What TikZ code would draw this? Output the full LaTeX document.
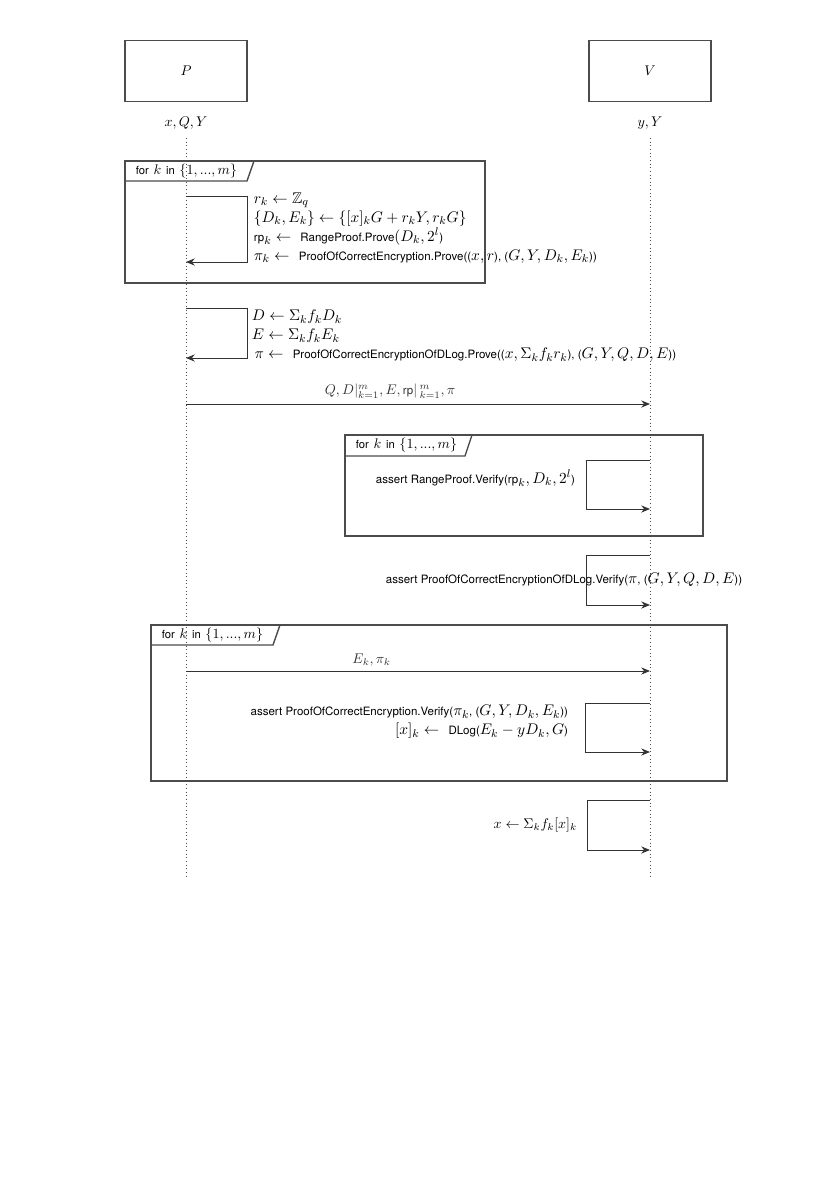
\documentclass[tikz,border=0pt]{standalone}
\usepackage{amsmath,amssymb}
\usepackage{fontspec}
\setsansfont{TeX Gyre Heros}
\usepackage{tikz}
\usetikzlibrary{positioning, arrows.meta, calc}

\newcommand{\op}[1]{\text{\fontsize{8.2}{10}\sffamily #1}}

\begin{document}
\begin{tikzpicture}[
    x=0.71206pt, y=-0.71206pt,
    actor/.style={draw, black!70, line width=0.8pt, text=black, minimum width=86.9pt, minimum height=43.4pt},
    frame/.style={draw, black!70, line width=1pt},
    lifeline/.style={dotted, black!70, line width=0.6pt},
    arr/.style={-{Stealth[length=2.2mm, width=1.8mm]}, black!80, line width=0.7pt},
    calltext/.style={font=\fontsize{11}{13.5}\selectfont},
    every node/.style={font=\normalsize}
]
\useasboundingbox (0,0) rectangle (836,1180);

% Parties
\node[actor] (P) at (186,71) {$P$};
\node[actor] (V) at (650,71) {$V$};
\node (Pin) at (186,123) {$x, Q, Y$};
\node (Vin) at (650,123) {$y, Y$};

% Lifelines
\coordinate (Pend) at (186,878);
\coordinate (Vend) at (650,878);
\draw[lifeline] (186,138) -- (Pend);
\draw[lifeline] (650,138) -- (Vend);

% Loop: commitments
\draw[frame] (125,161) rectangle (485,283);
\draw[frame] (125,181) -- (247,181) -- (254,161);
\node[anchor=west] (loopA) at (131,171) {{\fontsize{8}{10}\sffamily for} $k$ {\fontsize{8}{10}\sffamily in} $\{1, ..., m\}$};
\coordinate (c1s) at (186,196);
\coordinate (c1e) at (186,262);
\draw[arr] (c1s) -- (247,196) |- (c1e);
\node[calltext, anchor=west, align=left] (commit) at (249,228) {%
    $r_k \leftarrow \mathbb{Z}_q$\\
    $\{D_k, E_k\} \leftarrow \{[x]_k G + r_k Y, r_k G\}$\\
    $\op{rp}_k \leftarrow\ \op{RangeProof.Prove}(D_k, 2^l\op{)}$\\
    $\pi_k \leftarrow\ \op{ProofOfCorrectEncryption.Prove((}x, r\op{), (}G, Y, D_k, E_k\op{))}$};

% Aggregation
\coordinate (c2s) at (186,308);
\coordinate (c2e) at (186,358);
\draw[arr] (c2s) -- (247,308) |- (c2e);
\node[calltext, anchor=west, align=left] (aggr) at (247,336) {%
    $D \leftarrow \Sigma_k f_k D_k$\\
    $E \leftarrow \Sigma_k f_k E_k$\\
    $\,\pi \leftarrow\ \op{ProofOfCorrectEncryptionOfDLog.Prove((}x, \Sigma_k f_k r_k\op{), (}G, Y, Q, D, E\op{))}$};

% Message to verifier
\coordinate (m1s) at (186,404);
\coordinate (m1e) at (650,404);
\draw[arr] (m1s) -- node[above, pos=0.44] (msg1) {$Q, D|_{k=1}^{m}, E, \op{rp}|\,_{k=1}^{m}, \pi$} (m1e);

% Loop: range proofs
\draw[frame] (345,435) rectangle (703,536);
\draw[frame] (345,456) -- (465,456) -- (472,435);
\node[anchor=west] (loopB) at (351,445) {{\fontsize{8}{10}\sffamily for} $k$ {\fontsize{8}{10}\sffamily in} $\{1, ..., m\}$};
\coordinate (v1s) at (650,460);
\coordinate (v1e) at (650,509);
\draw[arr] (v1s) -- (586,460) |- (v1e);
\node[calltext, anchor=east] (vrange) at (580,478) {$\op{assert RangeProof.Verify(rp}_k, D_k, 2^l\op{)}$};

% Verify aggregate proof
\coordinate (v2s) at (650,555);
\coordinate (v2e) at (650,605);
\draw[arr] (v2s) -- (586,555) |- (v2e);
\node[calltext] (vdlog) at (564,580) {$\op{assert ProofOfCorrectEncryptionOfDLog.Verify(}\pi\op{, (}G, Y, Q, D, E\op{))}$};

% Loop: decryption
\draw[frame] (151,625) rectangle (727,781);
\draw[frame] (151,645) -- (273,645) -- (280,625);
\node[anchor=west] (loopC) at (157,635) {{\fontsize{8}{10}\sffamily for} $k$ {\fontsize{8}{10}\sffamily in} $\{1, ..., m\}$};
\coordinate (m2s) at (186,671);
\coordinate (m2e) at (650,671);
\draw[arr] (m2s) -- node[above, pos=0.40] (msg2) {$E_k, \pi_k$} (m2e);
\coordinate (v3s) at (650,703);
\coordinate (v3e) at (650,752);
\draw[arr] (v3s) -- (585,703) |- (v3e);
\node[calltext, anchor=east, align=right] (vdec) at (573,722) {%
    $\op{assert ProofOfCorrectEncryption.Verify(}\pi_k\op{, (}G, Y, D_k, E_k\op{))}$\\
    $[x]_k \leftarrow\ \op{DLog(}E_k - yD_k, G\op{)}$};

% Reconstruct
\coordinate (v4s) at (650,800);
\coordinate (v4e) at (650,850);
\draw[arr] (v4s) -- (587,800) |- (v4e);
\node[anchor=east] (vsum) at (582,825) {$x \leftarrow \Sigma_k f_k [x]_k$};

\end{tikzpicture}
\end{document}
